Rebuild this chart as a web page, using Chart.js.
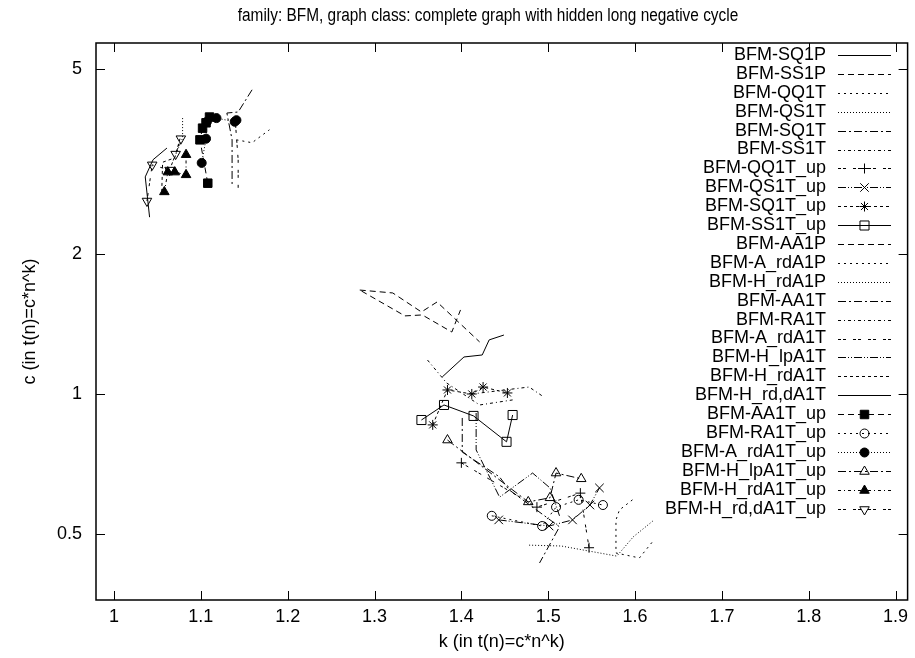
<!DOCTYPE html>
<html>
<head>
<meta charset="utf-8">
<script src="https://cdn.jsdelivr.net/npm/chart.js@4/dist/chart.umd.min.js"></script>
<style>
  html, body { margin: 0; padding: 0; background: #fff; }
  canvas { display: block; }
</style>
</head>
<body>
<canvas id="chart-bfm" width="915" height="658"></canvas>
<script>
// --- DATA: [k, c] pairs ---

const SQ1P = [[1.378, 1.088], [1.403, 1.201], [1.424, 1.213], [1.432, 1.307], [1.449, 1.339]];
const SS1P = [[1.283, 1.673], [1.321, 1.649], [1.354, 1.501], [1.372, 1.577], [1.421, 1.294]];
const QQ1T = [[1.597, 0.592], [1.582, 0.563], [1.578, 0.536], [1.578, 0.455], [1.605, 0.444], [1.622, 0.486]];
const QS1T = [[1.478, 0.473], [1.515, 0.471], [1.579, 0.448], [1.598, 0.493], [1.622, 0.536]];
const SQ1T = [[1.401, 0.888], [1.401, 0.750], [1.444, 0.663], [1.455, 0.622], [1.513, 0.518], [1.490, 0.433]];
const SS1T = [[1.361, 1.183], [1.383, 1.056], [1.421, 0.947], [1.459, 0.971]];
const QQ1T_up = [[1.400, 0.711], [1.487, 0.571], [1.537, 0.612], [1.547, 0.467]];
const QS1T_up = [[1.443, 0.536], [1.501, 0.520], [1.528, 0.536], [1.548, 0.577], [1.559, 0.628]];
const SQ1T_up = [[1.367, 0.858], [1.384, 1.020], [1.412, 1.000], [1.425, 1.035], [1.453, 1.005]];
const SS1T_up = [[1.354, 0.879], [1.380, 0.947], [1.414, 0.897], [1.452, 0.789], [1.459, 0.901]];
const AA1P = [[1.285, 1.665], [1.335, 1.472], [1.355, 1.479], [1.389, 1.359], [1.399, 1.516]];
const A_rdA1P = [[1.141, 3.52], [1.159, 3.47], [1.179, 3.70]];
const H_rdA1P = [[1.079, 3.92], [1.079, 3.55], [1.071, 3.27]];
const AA1T = [[1.159, 4.51], [1.143, 4.04], [1.130, 4.02], [1.136, 3.52], [1.136, 2.82]];
const RA1T = [[1.412, 1.000], [1.478, 1.035], [1.495, 0.985]];
const A_rdA1T = [[1.140, 3.79], [1.143, 3.19], [1.143, 2.75]];
const H_lpA1T = [[1.417, 0.910], [1.417, 0.758], [1.444, 0.600], [1.482, 0.676], [1.502, 0.628], [1.513, 0.547]];
const H_rdA1T = [[1.055, 2.72], [1.056, 3.15], [1.070, 3.22], [1.076, 3.54]];
const H_rd_dA1T = [[1.041, 2.40], [1.036, 2.93], [1.045, 3.19], [1.061, 3.38]];
const AA1T_up = [[1.108, 2.84], [1.099, 3.52], [1.102, 3.73], [1.106, 3.83], [1.110, 3.94]];
const RA1T_up = [[1.435, 0.547], [1.493, 0.520], [1.509, 0.571], [1.535, 0.592], [1.563, 0.577]];
const A_rdA1T_up = [[1.101, 3.14], [1.106, 3.54], [1.107, 3.85], [1.118, 3.92], [1.139, 3.85], [1.141, 3.88]];
const H_lpA1T_up = [[1.384, 0.796], [1.477, 0.586], [1.502, 0.598], [1.509, 0.676], [1.538, 0.657]];
const H_rdA1T_up = [[1.058, 2.72], [1.062, 3.00], [1.070, 3.00], [1.083, 2.96], [1.083, 3.27]];
const H_rd_dA1T_up = [[1.038, 2.60], [1.044, 3.11], [1.064, 3.03], [1.071, 3.28], [1.077, 3.54]];

const seriesNames = [
    'BFM-SQ1P', 'BFM-SS1P', 'BFM-QQ1T', 'BFM-QS1T', 'BFM-SQ1T', 'BFM-SS1T',
    'BFM-QQ1T_up', 'BFM-QS1T_up', 'BFM-SQ1T_up', 'BFM-SS1T_up',
    'BFM-AA1P', 'BFM-A_rdA1P', 'BFM-H_rdA1P', 'BFM-AA1T', 'BFM-RA1T', 'BFM-A_rdA1T',
    'BFM-H_lpA1T', 'BFM-H_rdA1T', 'BFM-H_rd,dA1T',
    'BFM-AA1T_up', 'BFM-RA1T_up', 'BFM-A_rdA1T_up', 'BFM-H_lpA1T_up', 'BFM-H_rdA1T_up', 'BFM-H_rd,dA1T_up'
];
const seriesData = [
    SQ1P, SS1P, QQ1T, QS1T, SQ1T, SS1T,
    QQ1T_up, QS1T_up, SQ1T_up, SS1T_up,
    AA1P, A_rdA1P, H_rdA1P, AA1T, RA1T, A_rdA1T,
    H_lpA1T, H_rdA1T, H_rd_dA1T,
    AA1T_up, RA1T_up, A_rdA1T_up, H_lpA1T_up, H_rdA1T_up, H_rd_dA1T_up
];

const xTicks = [1, 1.1, 1.2, 1.3, 1.4, 1.5, 1.6, 1.7, 1.8, 1.9];
const xTickLabels = ['1', '1.1', '1.2', '1.3', '1.4', '1.5', '1.6', '1.7', '1.8', '1.9'];
const yTicks = [0.5, 1, 2, 5];
const yTickLabels = ['0.5', '1', '2', '5'];

const chartTitle = 'family: BFM, graph class: complete graph with hidden long negative cycle';
const xTitle = 'k (in t(n)=c*n^k)';
const yTitle = 'c (in t(n)=c*n^k)';

// --- STYLES (gnuplot-like line types / point types) ---

const DASH = {
    solid: [], dashed: [6, 4], short: [2, 4], dotted: [1, 2],
    dashDot: [8, 3, 2, 3], dotDash: [3, 3, 1, 3], dblDash: [3, 2, 3, 7], dashDotDot: [8, 2, 1, 2, 1, 2]
};
const styles = [
    { dash: DASH.solid }, { dash: DASH.dashed }, { dash: DASH.short }, { dash: DASH.dotted },
    { dash: DASH.dashDot }, { dash: DASH.dotDash },
    { dash: DASH.dblDash, point: 'cross', r: 5 },
    { dash: DASH.dashDotDot, point: 'crossRot', r: 6 },
    { dash: [3, 3], point: 'star', r: 5 },
    { dash: DASH.solid, point: 'rect', r: 6.4 },
    { dash: DASH.dashed }, { dash: DASH.short }, { dash: DASH.dotted },
    { dash: DASH.dashDot }, { dash: DASH.dotDash }, { dash: DASH.dblDash },
    { dash: DASH.dashDotDot }, { dash: [3, 3] }, { dash: DASH.solid },
    { dash: DASH.dashed, point: 'rect', r: 6, filled: true },
    { dash: DASH.short, point: 'circle', r: 4.5 },
    { dash: DASH.dotted, point: 'circle', r: 4.5, filled: true },
    { dash: DASH.dashDot, point: 'triangle', r: 5.5 },
    { dash: DASH.dotDash, point: 'triangle', r: 5.5, filled: true },
    { dash: DASH.dblDash, point: 'triangle', r: 5.5, rot: 180 }
];

const FONT = { family: '"Liberation Sans", Arial, Helvetica, sans-serif', size: 18 };
const FONT_CSS = '18px "Liberation Sans", Arial, Helvetica, sans-serif';
const TITLE_SQUEEZE = 0.855; // title is set in a narrower face in the original
const TITLE_X = 488, TITLE_Y = 16;

// Axis ranges (gnuplot border limits)
const X_MIN = 0.9793, X_MAX = 1.9138;
const Y_MIN = 0.3605, Y_MAX = 5.686;

// Key layout
const KEY_TOP = 55, KEY_STEP = 18.9, KEY_TEXT_X = 826, KEY_LINE_X0 = 838, KEY_LINE_X1 = 891;

// --- BUILD DATASETS ---

function buildDatasets() {
    return seriesData.map((pts, i) => {
        const st = styles[i];
        return {
            label: seriesNames[i],
            data: pts.map(p => ({ x: p[0], y: p[1] })),
            showLine: true,
            borderColor: '#000',
            borderWidth: 1,
            borderDash: st.dash,
            tension: 0,
            fill: false,
            pointStyle: st.point || 'circle',
            pointRadius: st.point ? st.r : 0,
            pointHoverRadius: st.point ? st.r : 0,
            pointRotation: st.rot || 0,
            pointBorderColor: '#000',
            pointBorderWidth: 1,
            pointBackgroundColor: st.filled ? '#000' : 'rgba(0,0,0,0)'
        };
    });
}

// --- PLUGINS: gnuplot key, border with inward ticks, title ---

const gnuplotKey = {
    id: 'gnuplotKey',
    afterDatasetsDraw(chart) {
        const ctx = chart.ctx;
        ctx.save();
        ctx.font = FONT_CSS;
        ctx.textAlign = 'right';
        ctx.textBaseline = 'middle';
        chart.data.datasets.forEach((ds, i) => {
            const y = KEY_TOP + i * KEY_STEP;
            ctx.fillStyle = '#000';
            ctx.fillText(ds.label, KEY_TEXT_X, y);

            ctx.beginPath();
            ctx.strokeStyle = '#000';
            ctx.lineWidth = 1;
            ctx.setLineDash(ds.borderDash);
            ctx.moveTo(KEY_LINE_X0, Math.round(y) + 0.5);
            ctx.lineTo(KEY_LINE_X1, Math.round(y) + 0.5);
            ctx.stroke();

            if (ds.pointRadius > 0) {
                ctx.setLineDash([]);
                ctx.fillStyle = ds.pointBackgroundColor;
                Chart.helpers.drawPoint(ctx, {
                    pointStyle: ds.pointStyle,
                    rotation: ds.pointRotation,
                    radius: ds.pointRadius,
                    borderWidth: 1
                }, (KEY_LINE_X0 + KEY_LINE_X1) / 2, Math.round(y) + 0.5);
            }
        });
        ctx.restore();
    }
};

const gnuplotBorder = {
    id: 'gnuplotBorder',
    afterDraw(chart) {
        const { ctx, chartArea: a, scales: { x, y } } = chart;
        const TICK = 9;
        ctx.save();
        ctx.strokeStyle = '#000';
        ctx.setLineDash([]);
        ctx.lineWidth = 1;
        ctx.beginPath();
        xTicks.forEach(v => {
            const px = Math.round(x.getPixelForValue(v)) + 0.5;
            ctx.moveTo(px, a.bottom); ctx.lineTo(px, a.bottom - TICK);
            ctx.moveTo(px, a.top); ctx.lineTo(px, a.top + TICK);
        });
        yTicks.forEach(v => {
            const py = Math.round(y.getPixelForValue(v)) + 0.5;
            ctx.moveTo(a.left, py); ctx.lineTo(a.left + TICK, py);
            ctx.moveTo(a.right, py); ctx.lineTo(a.right - TICK, py);
        });
        ctx.stroke();

        ctx.lineWidth = 1.5;
        ctx.strokeRect(a.left, a.top, a.right - a.left, a.bottom - a.top);

        // Title
        ctx.fillStyle = '#000';
        ctx.font = FONT_CSS;
        ctx.textAlign = 'center';
        ctx.textBaseline = 'middle';
        ctx.translate(TITLE_X, TITLE_Y);
        ctx.scale(TITLE_SQUEEZE, 1);
        ctx.fillText(chartTitle, 0, 0);
        ctx.restore();
    }
};

// --- CHART ---

function renderChart() {
    const ctx = document.getElementById('chart-bfm');
    new Chart(ctx, {
        type: 'scatter',
        data: { datasets: buildDatasets() },
        options: {
            responsive: false,
            animation: false,
            devicePixelRatio: 1,
            layout: { padding: { left: 0, right: 6, top: 43, bottom: 0 } },
            plugins: { legend: { display: false }, title: { display: false }, tooltip: { enabled: false } },
            scales: {
                x: {
                    type: 'linear',
                    min: X_MIN, max: X_MAX,
                    grid: { display: false, drawTicks: false },
                    border: { display: false },
                    afterBuildTicks: s => { s.ticks = xTicks.map(v => ({ value: v })); },
                    afterFit: s => { s.height = 58; },
                    ticks: {
                        color: '#000', font: FONT, padding: 6, maxRotation: 0, autoSkip: false,
                        callback: (v, i) => xTickLabels[i]
                    },
                    title: { display: true, text: xTitle, color: '#000', font: FONT, padding: { top: 0, bottom: 5 } }
                },
                y: {
                    type: 'logarithmic',
                    min: Y_MIN, max: Y_MAX,
                    grid: { display: false, drawTicks: false },
                    border: { display: false },
                    afterBuildTicks: s => { s.ticks = yTicks.map(v => ({ value: v })); },
                    afterFit: s => { s.width = 96; },
                    ticks: {
                        color: '#000', font: FONT, padding: 14, autoSkip: false,
                        callback: (v, i) => yTickLabels[i]
                    },
                    title: { display: true, text: yTitle, color: '#000', font: FONT, padding: { top: 19, bottom: 0 } }
                }
            }
        },
        plugins: [gnuplotKey, gnuplotBorder]
    });
}

renderChart();
</script>
</body>
</html>
